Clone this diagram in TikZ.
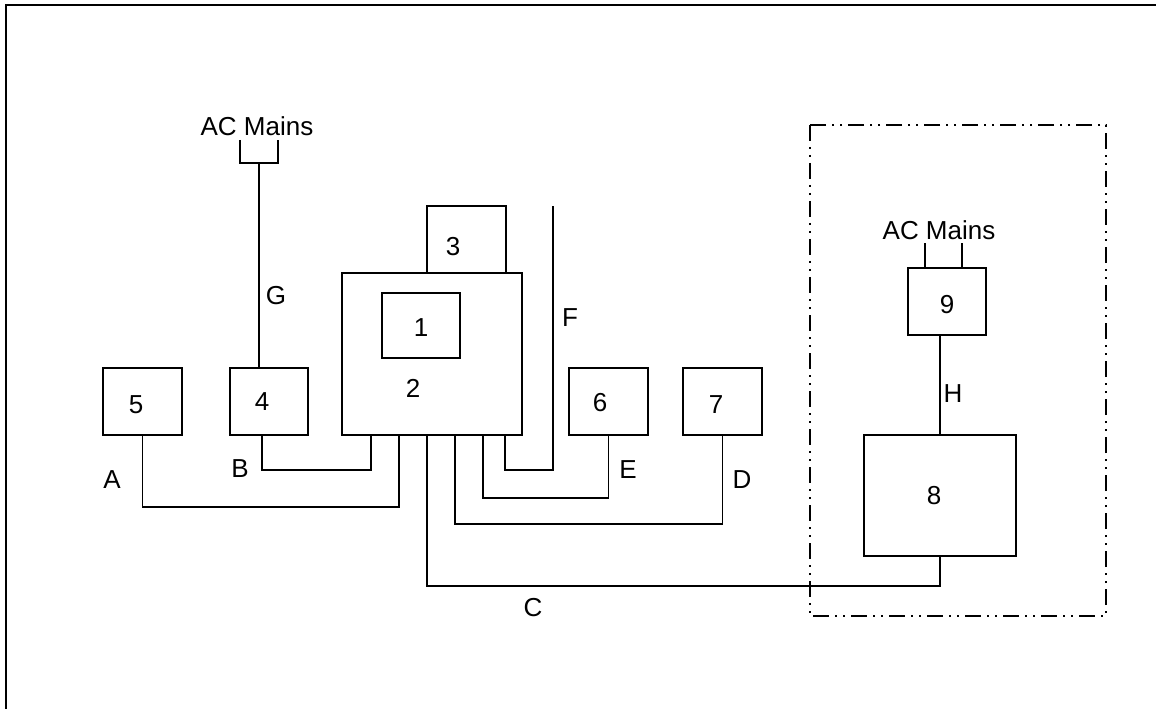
\documentclass[tikz,border=0pt]{standalone}
\usepackage{fontspec}
\setmainfont{Liberation Sans}
\usetikzlibrary{calc,positioning}

\begin{document}
\begin{tikzpicture}[x=0.75pt,y=-0.75pt,line width=1.3pt,font=\fontsize{19.5}{22}\selectfont,
blk/.style 2 args={draw,inner sep=0pt,minimum width=#1*0.75pt,minimum height=#2*0.75pt},
tag/.style={inner sep=0pt},
frontier/.style={line width=1.3pt,dash pattern=on 12pt off 4.5pt on 1.5pt off 4.5pt on 1.5pt off 4.5pt}]
\useasboundingbox (0,0) rectangle (1156,709);
% outer frame
\draw[line width=1.6pt] (6,709) -- (6,5) -- (1156,5);
% blocks
\node[blk={79}{67}] (b5) at (142.5,401.5) {};
\node[blk={78}{67}] (b4) at (269,401.5) {};
\node[blk={180}{162}] (b2) at (432,354) {};
\node[blk={78}{65}] (b1) at (421,325.5) {};
\node[blk={79}{67}] (b3) at (466.5,239.5) {};
\node[blk={79}{67}] (b6) at (608.5,401.5) {};
\node[blk={79}{67}] (b7) at (722.5,401.5) {};
\node[blk={152}{121}] (b8) at (940,495.5) {};
\node[blk={78}{67}] (b9) at (947,301.5) {};
% block numbers
\node[tag] (n5) at (136,405) {5};
\node[tag] (n4) at (262,402) {4};
\node[tag] (n2) at (413,388) {2};
\node[tag] (n1) at (421,328) {1};
\node[tag] (n3) at (453,247) {3};
\node[tag] (n6) at (600,403) {6};
\node[tag] (n7) at (716,405) {7};
\node[tag] (n8) at (934,496) {8};
\node[tag] (n9) at (947,305) {9};
% mains plugs
\node[tag] (ac1) at (257,126) {AC Mains};
\node[tag] (ac2) at (939,230) {AC Mains};
\coordinate (plugG) at (259,163);
\draw (plugG) ++(-19,-23) |- ++(38,23) -- ++(0,-23);
\draw ([xshift=13.5pt]b9.north west) -- ++(0,-24);
\draw ([xshift=41.25pt]b9.north west) -- ++(0,-24);
% ports under block 2
\foreach \n/\dx in {B/30,A/58,C/86,D/114,E/142,F/164}
  \coordinate (p\n) at ($(b2.south west)+(\dx,0)$);
\coordinate (fend) at (553,206);
% cables
\draw (b5.south) -- ++(0,71) -| (pA);
\draw ([xshift=-5.25pt]b4.south) -- ++(0,34) -| (pB);
\draw (pC) -- ++(0,150) -| (b8.south);
\draw (pD) -- ++(0,88) -| (b7.south);
\draw (pE) -- ++(0,62) -| (b6.south);
\draw (pF) -- ++(0,34) -| (fend);
\draw (plugG) -- (plugG |- b4.north);
\draw (b8.north) -- (b8.north |- b9.south);
% cable letters
\node[tag] (lA) at (112,480) {A};
\node[tag] (lB) at (240,469) {B};
\node[tag] (lC) at (533,608) {C};
\node[tag] (lD) at (742,480) {D};
\node[tag] (lE) at (628,470) {E};
\node[tag] (lF) at (570,318) {F};
\node[tag] (lG) at (276,296) {G};
\node[tag] (lH) at (953,394) {H};
% remote area
\draw[frontier] (810,125) rectangle (1106,616);
\end{tikzpicture}
\end{document}
